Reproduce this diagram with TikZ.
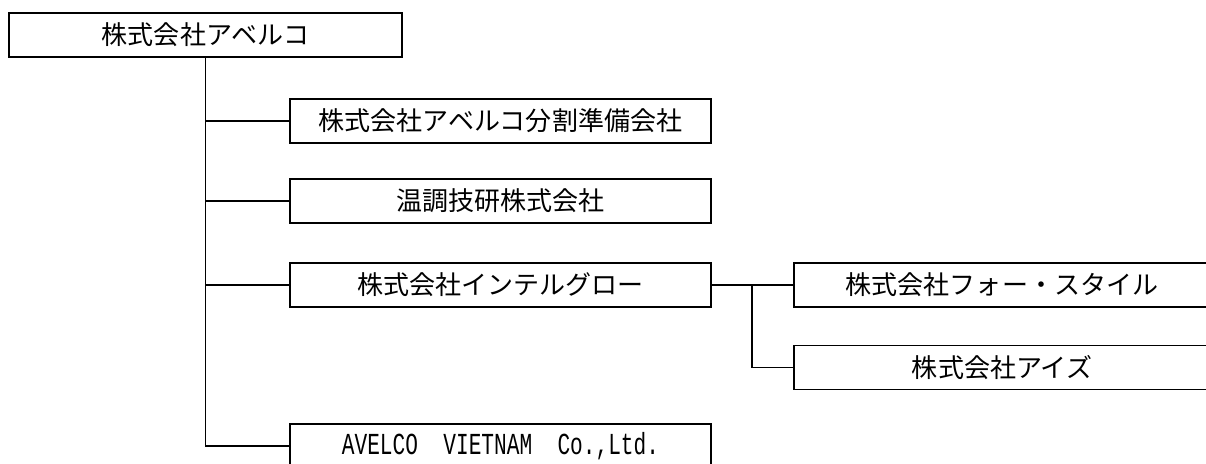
\documentclass[tikz,border=0pt]{standalone}
\usepackage{fontspec}
\usepackage{graphicx}
\newfontfamily\cjk{Noto Sans CJK JP}
\newfontfamily\latinmono{Liberation Mono}

\begin{document}
\begin{tikzpicture}[x=0.025cm,y=-0.025cm,line width=1.4pt,
  org node/.style={rectangle,draw,inner sep=0pt,minimum height=1.1cm,
  font=\cjk\fontsize{18.5pt}{20pt}\selectfont},
  main box/.style={org node,minimum width=10.525cm},
  sub box/.style={org node,minimum width=10.4cm}]

  \useasboundingbox (0,0) rectangle (1206,464);
  \clip (0,0) rectangle (1206,464);

  \node[org node,minimum width=9.825cm] (avelco) at (205.5,35) {株式会社アベルコ};
  \node[main box] (bunkatsu) at (500.5,121) {株式会社アベルコ分割準備会社};
  \node[main box] (oncho) at (500.5,201) {温調技研株式会社};
  \node[main box] (intelgro) at (500.5,285) {株式会社インテルグロー};
  \node[main box] (vietnam) at (500.5,446)
    {\scalebox{0.97}[1.4]{\latinmono\fontsize{15.5pt}{18pt}\selectfont AVELCO\ \ VIETNAM\ \ Co.,Ltd.}};
  \node[sub box] (fourstyle) at (1002,285) {株式会社フォー・スタイル};
  \node[sub box] (izu) at (1002,367.5) {株式会社アイズ};
  \coordinate (fork) at (752,285);

  % trunk of the parent company, then one branch for each subsidiary
  \draw (avelco.south) |- (vietnam.west);
  \draw (avelco.south |- bunkatsu.west) -- (bunkatsu.west);
  \draw (avelco.south |- oncho.west) -- (oncho.west);
  \draw (avelco.south |- intelgro.west) -- (intelgro.west);

  % companies under Intelgro
  \draw (intelgro.east) -- (fourstyle.west);
  \draw (fork) |- (izu.west);
\end{tikzpicture}
\end{document}
